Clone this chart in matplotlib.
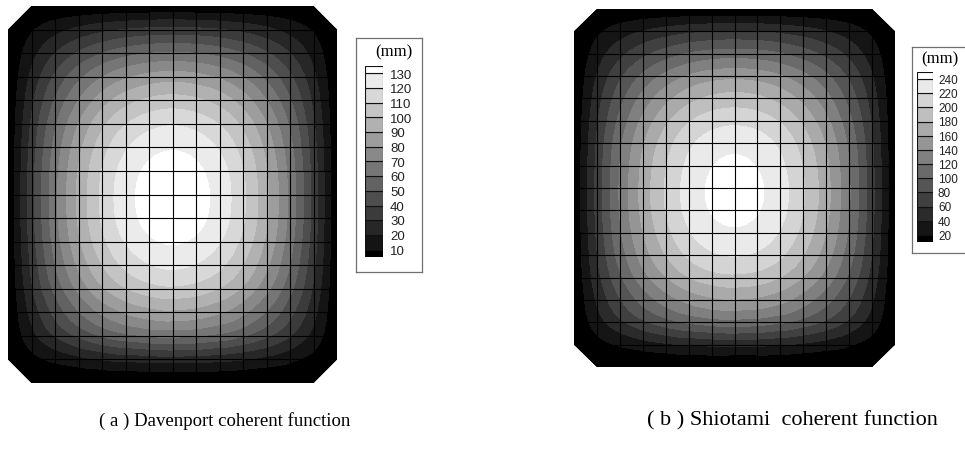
import numpy as np
import matplotlib
matplotlib.use('Agg')
import matplotlib.pyplot as plt
import matplotlib.tri as mtri
from matplotlib.patches import Polygon
from matplotlib.transforms import blended_transform_factory

# Deflection (mm) read along the middle row (15 nodes, left -> right)
# and the middle column (17 nodes, top -> bottom) of each cable net
row_a = [0, 36, 67, 92, 112, 126, 134, 137, 134, 126, 112, 92, 67, 36, 0]
col_a = [0, 33, 61, 85, 104, 119, 129, 135, 137, 136, 131, 122, 108, 88, 62, 25, 0]
row_b = [0, 66, 122, 167, 202, 228, 243, 248, 243, 228, 202, 167, 122, 66, 0]
col_b = [0, 60, 110, 154, 188, 215, 234, 244, 248, 246, 237, 221, 195, 159, 112, 45, 0]

# Contour levels shown in the legends
levels_a = [10, 20, 30, 40, 50, 60, 70, 80, 90, 100, 110, 120, 130]
levels_b = [20, 40, 60, 80, 100, 120, 140, 160, 180, 200, 220, 240]

captions = ['( a ) Davenport coherent function', '( b ) Shiotami  coherent function']

W, H = 965, 459
fig = plt.figure(figsize=(W / 100, H / 100), dpi=100)


def rect(x0, y0, x1, y1):
    """pixel box (top-left origin) -> figure fraction"""
    return [x0 / W, 1 - y1 / H, (x1 - x0) / W, (y1 - y0) / H]


def gray_list(n):
    return [str(v) for v in np.linspace(0, 1, n)]


def draw_panel(ax, row, col, levels):
    nx, ny = len(row), len(col)
    z = np.outer(col, row) / max(row)
    xx, yy = np.meshgrid(np.arange(nx, dtype=float), np.arange(ny, dtype=float))
    triang = mtri.Triangulation(xx.ravel(), yy.ravel())
    tri_f, z_f = mtri.UniformTriRefiner(triang).refine_field(z.ravel().astype(float), subdiv=3)

    # octagon outline of the roof (chamfered corners)
    octagon = Polygon([(1, 0), (nx - 2, 0), (nx - 1, 1), (nx - 1, ny - 2),
                       (nx - 2, ny - 1), (1, ny - 1), (0, ny - 2), (0, 1)],
                      closed=True, facecolor='black', edgecolor='none', zorder=0)
    ax.add_patch(octagon)

    bounds = [-1e6] + levels + [1e6]
    cs = ax.tricontourf(tri_f, z_f, levels=bounds, colors=gray_list(len(levels) + 1))
    cs.set_clip_path(octagon)

    vl = ax.vlines(np.arange(1, nx - 1), 0, ny - 1, colors='black', linewidth=0.8)
    hl = ax.hlines(np.arange(1, ny - 1), 0, nx - 1, colors='black', linewidth=0.8)
    vl.set_clip_path(octagon)
    hl.set_clip_path(octagon)

    ax.set_xlim(0, nx - 1)
    ax.set_ylim(ny - 1, 0)
    ax.axis('off')


def draw_legend(frame, bar, label_x, title_xy, levels, shift, fs):
    axf = fig.add_axes(rect(*frame))
    axf.set_xticks([])
    axf.set_yticks([])
    for s in axf.spines.values():
        s.set_color('#707070')
        s.set_linewidth(0.9)

    axb = fig.add_axes(rect(*bar))
    step = levels[1] - levels[0]
    edges = [levels[0] - step / 2] + levels + [levels[-1] + step / 2]
    axb.bar(np.full(len(edges) - 1, 0.5), np.diff(edges), bottom=edges[:-1], width=1,
            color=gray_list(len(edges) - 1), edgecolor='#111111', linewidth=0.8)
    axb.set_xlim(0, 1)
    axb.set_ylim(edges[0], edges[-1])
    axb.axis('off')

    trans = blended_transform_factory(fig.transFigure, axb.transData)
    for lev in levels:
        axb.text(label_x / W, lev - shift, str(lev), transform=trans, ha='left', va='center',
                 fontsize=fs, family='Liberation Sans', color='#222222')
    fig.text(title_xy[0] / W, 1 - title_xy[1] / H, '(mm)', ha='center', va='center',
             fontsize=12, family='Liberation Serif')


ax_a = fig.add_axes(rect(8, 6, 337, 383))
draw_panel(ax_a, row_a, col_a, levels_a)
draw_legend((356, 38, 422, 272), (365, 66, 383, 257), 390, (394, 52), levels_a, 1.5, 9.5)

ax_b = fig.add_axes(rect(574, 9, 895, 367))
draw_panel(ax_b, row_b, col_b, levels_b)
draw_legend((912, 47, 975, 253), (917, 72, 933, 242), 938, (940, 59), levels_b, 2.5, 8.5)

fig.text(225 / W, 1 - 421 / H, captions[0], ha='center', va='center',
         fontsize=13.5, family='Liberation Serif')
fig.text(792 / W, 1 - 421 / H, captions[1], ha='center', va='center',
         fontsize=16, family='Liberation Serif')

fig.savefig('out.png', dpi=100)
